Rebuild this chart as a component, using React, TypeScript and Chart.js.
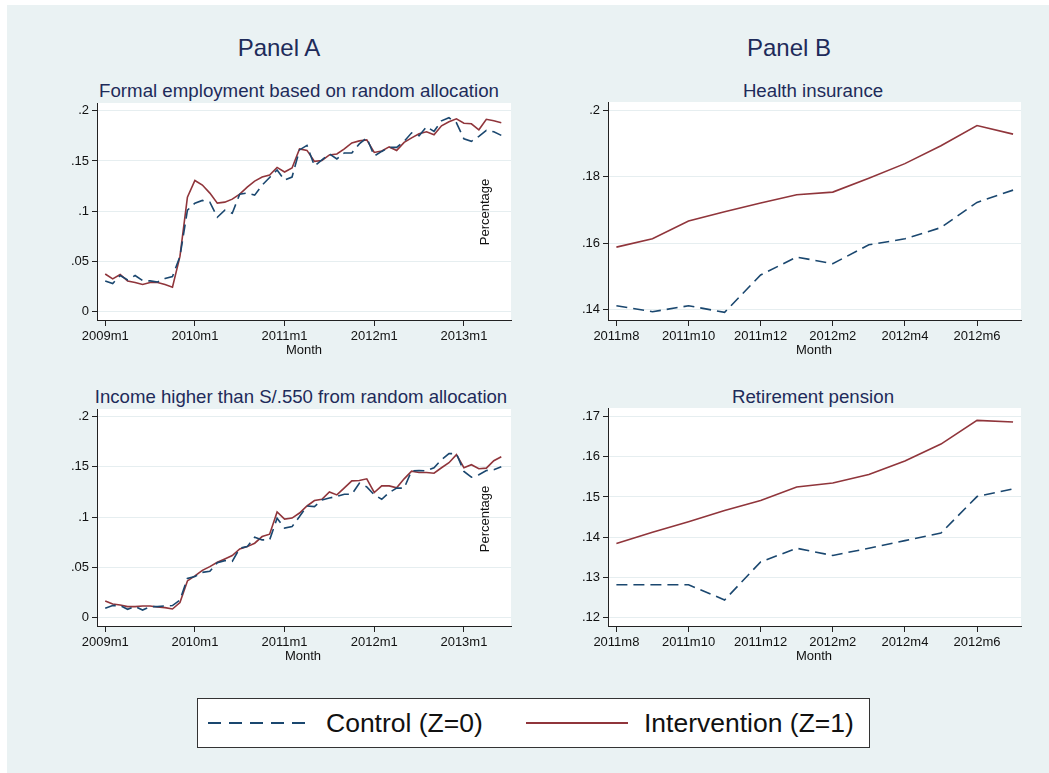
import React, { useEffect, useRef } from 'react';
import { Chart, registerables } from 'chart.js';

Chart.register(...registerables);
Chart.defaults.font.family = "'Liberation Sans', Arial, sans-serif";

// ---------- Data ----------
const yearsA = [2009, 2010, 2011, 2012, 2013];
const monthsA: string[] = [];
yearsA.forEach((y) => {
  for (let m = 1; m <= 12; m++) if (!(y === 2013 && m > 6)) monthsA.push(`${y}m${m}`);
});

const controlFormal = [
  0.0306, 0.028, 0.036, 0.0316, 0.036, 0.031, 0.0306, 0.0296, 0.033, 0.035, 0.055, 0.101,
  0.108, 0.1107, 0.109, 0.094, 0.101, 0.098, 0.117, 0.118, 0.116, 0.126, 0.1336, 0.141,
  0.131, 0.134, 0.161, 0.1655, 0.145, 0.151, 0.157, 0.152, 0.158, 0.158, 0.167, 0.173,
  0.155, 0.1595, 0.1635, 0.1635, 0.1695, 0.178, 0.175, 0.184, 0.1795, 0.19, 0.193, 0.188,
  0.172, 0.1695, 0.1745, 0.1805, 0.179, 0.1755,
];
const interventionFormal = [
  0.0375, 0.0326, 0.037, 0.0306, 0.029, 0.027, 0.029, 0.029, 0.027, 0.0243, 0.055, 0.114,
  0.1306, 0.126, 0.118, 0.108, 0.109, 0.112, 0.117, 0.124, 0.13, 0.134, 0.136, 0.1436,
  0.139, 0.143, 0.162, 0.1605, 0.1496, 0.1505, 0.156, 0.157, 0.162, 0.168, 0.17, 0.171,
  0.1585, 0.16, 0.164, 0.1605, 0.1685, 0.173, 0.177, 0.179, 0.176, 0.185, 0.189, 0.192,
  0.1875, 0.187, 0.181, 0.1915, 0.19, 0.188,
];
const controlIncome = [
  0.0093, 0.012, 0.012, 0.0083, 0.011, 0.0076, 0.011, 0.011, 0.0116, 0.012, 0.0176, 0.039,
  0.041, 0.045, 0.046, 0.0547, 0.0567, 0.056, 0.069, 0.0706, 0.08, 0.0773, 0.0773, 0.0988,
  0.089, 0.0905, 0.1005, 0.111, 0.1104, 0.117, 0.119, 0.1205, 0.1227, 0.1227, 0.1336, 0.13,
  0.122, 0.1177, 0.1244, 0.1287, 0.1287, 0.146, 0.1463, 0.146, 0.149, 0.157, 0.163, 0.163,
  0.1453, 0.1396, 0.142, 0.1463, 0.147, 0.15,
];
const interventionIncome = [
  0.0166, 0.0136, 0.0126, 0.011, 0.011, 0.0116, 0.0116, 0.0106, 0.01, 0.0086, 0.015, 0.0365,
  0.0415, 0.047, 0.0507, 0.055, 0.0584, 0.0617, 0.0683, 0.0706, 0.074, 0.0806, 0.083, 0.105,
  0.098, 0.099, 0.104, 0.111, 0.1164, 0.1177, 0.125, 0.122, 0.129, 0.136, 0.1363, 0.138,
  0.1244, 0.131, 0.131, 0.129, 0.138, 0.1456, 0.1443, 0.1443, 0.1436, 0.149, 0.154, 0.162,
  0.149, 0.152, 0.148, 0.1486, 0.156, 0.16,
];

const monthsB = [
  '2011m8', '2011m9', '2011m10', '2011m11', '2011m12', '2012m1',
  '2012m2', '2012m3', '2012m4', '2012m5', '2012m6', '2012m7',
];
const controlHealth = [0.1411, 0.1393, 0.1411, 0.1391, 0.1504, 0.1558, 0.1538, 0.1595, 0.1613, 0.1647, 0.1723, 0.176];
const interventionHealth = [0.1588, 0.1613, 0.1667, 0.1695, 0.1721, 0.1746, 0.1754, 0.1796, 0.184, 0.1894, 0.1955, 0.1929];
const controlPension = [0.1281, 0.1281, 0.1281, 0.1243, 0.1338, 0.1372, 0.1354, 0.1372, 0.1391, 0.141, 0.1501, 0.152];
const interventionPension = [0.1384, 0.1412, 0.1438, 0.1466, 0.1491, 0.1525, 0.1535, 0.1556, 0.159, 0.1632, 0.1691, 0.1687];

const xTicksA = ['2009m1', '2010m1', '2011m1', '2012m1', '2013m1'];
const xTicksB = ['2011m8', '2011m10', '2011m12', '2012m2', '2012m4', '2012m6'];
const yTicksA = [0, 0.05, 0.1, 0.15, 0.2];
const yTicksHealth = [0.14, 0.16, 0.18, 0.2];
const yTicksPension = [0.12, 0.13, 0.14, 0.15, 0.16, 0.17];

const seriesNames = ['Control (Z=0)', 'Intervention (Z=1)'];
const panelTitles = ['Panel A', 'Panel B'];
const subTitles = [
  'Formal employment based on random allocation',
  'Health insurance',
  'Income higher than S/.550 from random allocation',
  'Retirement pension',
];

// ---------- Styling ----------
const NAVY = '#1A476F';
const MAROON = '#90353B';
const TITLE = '#1e2b5a';
const BG = '#EAF2F3';
const GRID = '#E6EEF0';
const FONT = "'Liberation Sans', Arial, sans-serif";

const whiteBg = {
  id: 'whiteBg',
  beforeDraw(chart: any) {
    const { ctx, chartArea } = chart;
    if (!chartArea) return;
    ctx.save();
    ctx.fillStyle = '#ffffff';
    ctx.fillRect(chartArea.left, chartArea.top, chartArea.right - chartArea.left, chartArea.bottom - chartArea.top);
    ctx.restore();
  },
};

const fmtY = (v: number) => {
  if (Math.abs(v) < 1e-9) return '0';
  return String(+v.toFixed(3)).replace(/^0\./, '.');
};

type PanelProps = {
  left: number;
  top: number;
  width: number;
  height: number;
  padTop: number;
  months: string[];
  control: number[];
  intervention: number[];
  xTicks: string[];
  yTicks: number[];
  xMin: number;
  xMax: number;
  yMin: number;
  yMax: number;
};

const Y_W = 57;
const X_H = 45;
const PAD_R = 5;

function Panel(p: PanelProps) {
  const ref = useRef<HTMLCanvasElement>(null);
  useEffect(() => {
    const toPts = (arr: number[]) => arr.map((v, i) => ({ x: i, y: v }));
    const chart = new Chart(ref.current as HTMLCanvasElement, {
      type: 'line',
      data: {
        datasets: [
          {
            label: seriesNames[0],
            data: toPts(p.control),
            borderColor: NAVY,
            borderWidth: 1.6,
            borderDash: [11, 6],
            pointRadius: 0,
            tension: 0,
            fill: false,
          },
          {
            label: seriesNames[1],
            data: toPts(p.intervention),
            borderColor: MAROON,
            borderWidth: 1.6,
            pointRadius: 0,
            tension: 0,
            fill: false,
          },
        ],
      },
      options: {
        animation: false,
        responsive: false,
        devicePixelRatio: 1,
        layout: { padding: { top: p.padTop, right: PAD_R, left: 0, bottom: 0 } },
        plugins: { legend: { display: false }, tooltip: { enabled: false }, title: { display: false } },
        scales: {
          x: {
            type: 'linear',
            min: p.xMin,
            max: p.xMax,
            afterFit: (s: any) => {
              s.height = X_H;
            },
            afterBuildTicks: (s: any) => {
              s.ticks = p.xTicks.map((l) => ({ value: p.months.indexOf(l) }));
            },
            ticks: {
              callback: (v: any) => p.months[Math.round(Number(v))] ?? '',
              font: { size: 13, family: FONT },
              color: '#111',
              padding: 3,
              maxRotation: 0,
              autoSkip: false,
            },
            grid: { drawOnChartArea: false, drawTicks: true, tickLength: 6, tickColor: '#222', tickWidth: 1 },
            border: { display: true, color: '#222', width: 1 },
          },
          y: {
            type: 'linear',
            min: p.yMin,
            max: p.yMax,
            afterFit: (s: any) => {
              s.width = Y_W;
            },
            afterBuildTicks: (s: any) => {
              s.ticks = p.yTicks.map((v) => ({ value: v }));
            },
            ticks: {
              callback: (v: any) => fmtY(Number(v)),
              font: { size: 13, family: FONT },
              color: '#111',
              padding: 3,
              autoSkip: false,
            },
            grid: { drawOnChartArea: true, color: GRID, lineWidth: 1, drawTicks: true, tickLength: 5, tickColor: '#222' },
            border: { display: true, color: '#222', width: 1 },
          },
        },
      },
      plugins: [whiteBg],
    } as any);
    return () => chart.destroy();
  }, []);
  return (
    <canvas
      ref={ref}
      width={p.width}
      height={p.height}
      style={{ position: 'absolute', left: p.left, top: p.top, width: p.width, height: p.height }}
    />
  );
}

function Txt(props: { x: number; y: number; text: string; size: number; color?: string; rotate?: number }) {
  return (
    <div
      style={{
        position: 'absolute',
        left: props.x,
        top: props.y,
        transform: `translate(-50%, -50%)${props.rotate ? ` rotate(${props.rotate}deg)` : ''}`,
        fontFamily: FONT,
        fontSize: props.size,
        lineHeight: 1,
        whiteSpace: 'nowrap',
        color: props.color ?? '#111',
      }}
    >
      {props.text}
    </div>
  );
}

// chart area geometry (page px)
const A_L = 97, A_R = 511, B_L = 608, B_R = 1021;
const ROW1_T = 103, ROW1_B = 320, ROW2_T = 409, ROW2_B = 626;

export default function App() {
  const cTop1 = 80;
  const cTop2 = 385;
  return (
    <div style={{ position: 'absolute', left: 0, top: 0, width: 1049, height: 773, background: '#fff', overflow: 'hidden' }}>
      <div style={{ position: 'absolute', left: 7, top: 5, width: 1042, height: 768, background: BG }} />

      <Txt x={279} y={48} text={panelTitles[0]} size={24} color={TITLE} />
      <Txt x={789} y={48} text={panelTitles[1]} size={24} color={TITLE} />

      <Txt x={299} y={91} text={subTitles[0]} size={18.7} color={TITLE} />
      <Txt x={813} y={91} text={subTitles[1]} size={18.7} color={TITLE} />
      <Txt x={301} y={397} text={subTitles[2]} size={18.6} color={TITLE} />
      <Txt x={813} y={397} text={subTitles[3]} size={18.7} color={TITLE} />

      <Panel
        left={A_L - Y_W}
        top={cTop1}
        width={A_R - A_L + Y_W + PAD_R}
        height={ROW1_B - cTop1 + X_H}
        padTop={ROW1_T - cTop1}
        months={monthsA}
        control={controlFormal}
        intervention={interventionFormal}
        xTicks={xTicksA}
        yTicks={yTicksA}
        xMin={-1.1}
        xMax={54.3}
        yMin={-0.0083}
        yMax={0.2077}
      />
      <Panel
        left={B_L - Y_W}
        top={cTop1}
        width={B_R - B_L + Y_W + PAD_R}
        height={ROW1_B - cTop1 + X_H}
        padTop={ROW1_T - 1 - cTop1}
        months={monthsB}
        control={controlHealth}
        intervention={interventionHealth}
        xTicks={xTicksB}
        yTicks={yTicksHealth}
        xMin={-0.233}
        xMax={11.22}
        yMin={0.1368}
        yMax={0.2026}
      />
      <Panel
        left={A_L - Y_W}
        top={cTop2}
        width={A_R - A_L + Y_W + PAD_R}
        height={ROW2_B - cTop2 + X_H}
        padTop={ROW2_T - cTop2}
        months={monthsA}
        control={controlIncome}
        intervention={interventionIncome}
        xTicks={xTicksA}
        yTicks={yTicksA}
        xMin={-1.1}
        xMax={54.3}
        yMin={-0.0083}
        yMax={0.2074}
      />
      <Panel
        left={B_L - Y_W}
        top={cTop2}
        width={B_R - B_L + Y_W + PAD_R}
        height={ROW2_B - cTop2 + X_H}
        padTop={ROW2_T - 1 - cTop2}
        months={monthsB}
        control={controlPension}
        intervention={interventionPension}
        xTicks={xTicksB}
        yTicks={yTicksPension}
        xMin={-0.233}
        xMax={11.22}
        yMin={0.1178}
        yMax={0.1722}
      />

      <Txt x={484} y={212} text="Percentage" size={13} rotate={-90} />
      <Txt x={484} y={519} text="Percentage" size={13} rotate={-90} />

      <Txt x={304} y={349} text="Month" size={13} />
      <Txt x={814} y={349} text="Month" size={13} />
      <Txt x={303} y={655} text="Month" size={13} />
      <Txt x={814} y={655} text="Month" size={13} />

      <div
        style={{
          position: 'absolute',
          left: 197,
          top: 698,
          width: 673,
          height: 50,
          background: '#fff',
          border: '1px solid #333',
          boxSizing: 'border-box',
        }}
      >
        <div
          style={{
            position: 'absolute',
            left: 10,
            top: 23,
            width: 100,
            height: 2,
            background: `repeating-linear-gradient(to right, ${NAVY} 0 13px, transparent 13px 21px)`,
          }}
        />
        <div
          style={{ position: 'absolute', left: 128, top: 24, transform: 'translateY(-50%)', fontFamily: FONT, fontSize: 26.5, lineHeight: 1, whiteSpace: 'nowrap', color: '#111' }}
        >
          {seriesNames[0]}
        </div>
        <div style={{ position: 'absolute', left: 328, top: 23, width: 102, height: 2, background: MAROON }} />
        <div
          style={{ position: 'absolute', left: 446, top: 24, transform: 'translateY(-50%)', fontFamily: FONT, fontSize: 26.5, lineHeight: 1, whiteSpace: 'nowrap', color: '#111' }}
        >
          {seriesNames[1]}
        </div>
      </div>
    </div>
  );
}
